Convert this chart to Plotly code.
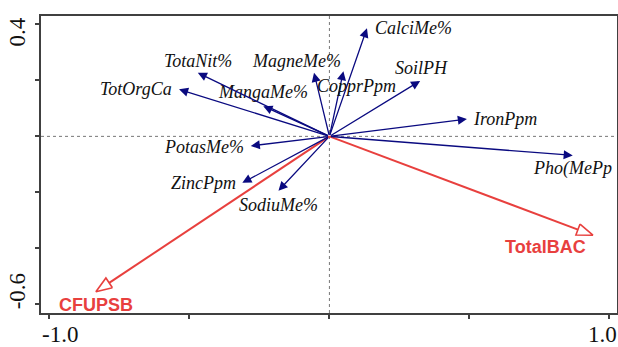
import numpy as np
import plotly.graph_objects as go

# ---- data (biplot scores) ----
env_names = ["CalciMe%", "SoilPH", "IronPpm", "Pho(MePp", "CopprPpm", "MagneMe%",
             "MangaMe%", "TotaNit%", "TotOrgCa", "PotasMe%", "ZincPpm", "SodiuMe%"]
env_x = [0.134, 0.324, 0.491, 0.869, 0.050, -0.055, -0.236, -0.470, -0.537, -0.281, -0.311, -0.182]
env_y = [0.386, 0.198, 0.062, -0.068, 0.233, 0.227, 0.108, 0.227, 0.168, -0.034, -0.166, -0.194]

resp_names = ["CFUPSB", "TotalBAC"]
resp_x = [-0.834, 0.941]
resp_y = [-0.555, -0.353]

x_ticks = [-1.0, -0.5, 0.0, 0.5, 1.0]
x_tick_labels = ["-1.0", "", "", "", "1.0"]
y_ticks = [0.4, 0.2, 0.0, -0.2, -0.4, -0.6]
y_tick_labels = ["0.4", "", "", "", "", "-0.6"]

# ---- styles ----
BLUE = "#0a0a80"
RED = "#e8403e"
TICKFONT = dict(family="Liberation Serif", size=23, color="#111111")
# label placement: (xanchor, xshift px, yshift px)
env_label_pos = {
    "CalciMe%": ("left", 6, 0), "SoilPH": ("center", 1, 13), "IronPpm": ("left", 4, 0),
    "Pho(MePp": ("center", 0, -13), "CopprPpm": ("center", 13, -15),
    "MagneMe%": ("center", -18, 12), "MangaMe%": ("center", 0, 14),
    "TotaNit%": ("center", 0, 12), "TotOrgCa": ("right", -5, 0),
    "PotasMe%": ("right", -5, -1), "ZincPpm": ("right", -4, 0),
    "SodiuMe%": ("center", 0, -14),
}
resp_label_pos = {"CFUPSB": ("center", 0, -13), "TotalBAC": ("right", -5, -12)}
# tick label offsets (labels pulled inward at the plot ends)
x_label_shift = {"-1.0": 11, "1.0": -7}
y_label_shift = {"0.4": -8, "-0.6": 13}

fig = go.Figure()

annotations = []
for n, x, y in zip(env_names, env_x, env_y):
    annotations.append(dict(x=x, y=y, ax=0, ay=0, xref="x", yref="y", axref="x", ayref="y",
                            text="", showarrow=True, arrowhead=2, arrowsize=1.4,
                            arrowwidth=1.3, arrowcolor=BLUE, standoff=0))
    xa, xs, ys = env_label_pos[n]
    annotations.append(dict(x=x, y=y, xref="x", yref="y", text="<i>" + n + "</i>",
                            showarrow=False, xanchor=xa, yanchor="middle", xshift=xs, yshift=ys,
                            font=dict(family="Liberation Serif", size=18, color="#111111")))

# red arrows with hollow heads
L = 0.057  # head length in data units (equal aspect)
W = 0.021
for n, x, y in zip(resp_names, resp_x, resp_y):
    tip = np.array([x, y])
    u = tip / np.linalg.norm(tip)
    nrm = np.array([-u[1], u[0]])
    base = tip - L * u
    c1 = base + W * nrm
    c2 = base - W * nrm
    fig.add_trace(go.Scatter(x=[0, base[0]], y=[0, base[1]], mode="lines",
                             line=dict(color=RED, width=2), hoverinfo="skip", showlegend=False))
    fig.add_trace(go.Scatter(x=[c1[0], tip[0], c2[0], c1[0]], y=[c1[1], tip[1], c2[1], c1[1]],
                             mode="lines", line=dict(color=RED, width=1.6),
                             hoverinfo="skip", showlegend=False))
    xa, xs, ys = resp_label_pos[n]
    annotations.append(dict(x=x, y=y, xref="x", yref="y", text="<b>" + n + "</b>",
                            showarrow=False, xanchor=xa, yanchor="middle", xshift=xs, yshift=ys,
                            font=dict(family="Liberation Sans", size=18, color=RED)))

# tick labels as annotations so the end labels can sit inside the frame span
for v, t in zip(x_ticks, x_tick_labels):
    if t:
        annotations.append(dict(x=v, y=0, xref="x", yref="paper", text=t, showarrow=False,
                                xanchor="center", yanchor="middle", xshift=x_label_shift[t],
                                yshift=-21.5, borderpad=0, font=TICKFONT))
for v, t in zip(y_ticks, y_tick_labels):
    if t:
        annotations.append(dict(x=0, y=v, xref="paper", yref="y", text=t, showarrow=False,
                                textangle=-90, xanchor="center", yanchor="middle",
                                xshift=-24, yshift=y_label_shift[t], font=TICKFONT))

shapes = [
    dict(type="line", xref="x", yref="paper", x0=0, x1=0, y0=0, y1=1,
         line=dict(color="#777777", width=1, dash="dot"), layer="below"),
    dict(type="line", xref="paper", yref="y", x0=0, x1=1, y0=0, y1=0,
         line=dict(color="#777777", width=1, dash="dot"), layer="below"),
]

fig.update_layout(
    width=618, height=347,
    margin=dict(l=41, r=1, t=16, b=34),
    plot_bgcolor="white", paper_bgcolor="white",
    annotations=annotations, shapes=shapes, showlegend=False,
    xaxis=dict(range=[-1.03, 1.027], tickvals=x_ticks, showticklabels=False,
               automargin=False,
               showgrid=False, zeroline=False, showline=True, mirror=True,
               linecolor="#404040", linewidth=2, ticks="outside", ticklen=4,
               tickcolor="#404040", tickwidth=1.5),
    yaxis=dict(range=[-0.631, 0.43], tickvals=y_ticks, showticklabels=False,
               automargin=False,
               showgrid=False, zeroline=False, showline=True, mirror=True,
               linecolor="#404040", linewidth=2, ticks="outside", ticklen=4,
               tickcolor="#404040", tickwidth=1.5),
)

# remove the default page margin so the figure fills the window exactly
fig.write_html("out.html", config={"displayModeBar": False},
               post_script="document.body.style.margin='0';document.body.style.overflow='hidden';")
